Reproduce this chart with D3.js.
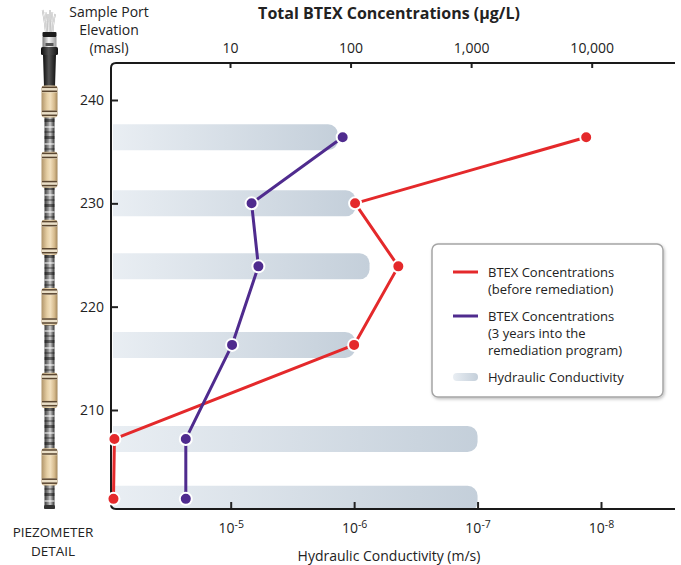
<!DOCTYPE html>
<html lang="en">
<head>
<meta charset="utf-8">
<title>Total BTEX Concentrations</title>
<script src="https://d3js.org/d3.v7.min.js"></script>
<style>
  body { margin: 0; background: #fff; }
  svg { display: block; font-family: "Open Sans", sans-serif; }
  .tick line { stroke: #222; stroke-width: 2; }
  .tick text { font-size: 14px; fill: #222; font-family: "Open Sans", sans-serif; }
  .domain { display: none; }
  .label { font-size: 14px; fill: #222; }
  .legendText { font-size: 13px; fill: #222; }
</style>
</head>
<body>
<div id="chart"></div>
<script>
// sample port elevations (masl)
const elevations = [236.4, 230.0, 223.9, 216.3, 207.2, 201.4];
// total BTEX, ug/L
const btexBefore = [9000, 109, 249, 107, 1.1, 1.08];
const btexAfter = [86, 15.1, 17.2, 10.4, 4.3, 4.3];
// hydraulic conductivity, m/s
const conductivity = [1.35e-6, 9.7e-7, 7.5e-7, 9.8e-7, 1e-7, 1e-7];

const concTicks = [10, 100, 1000, 10000];
const condTicks = [1e-5, 1e-6, 1e-7, 1e-8];
const elevTicks = [210, 220, 230, 240];

// tan packer sleeves on the piezometer drawing, masl
const packerTop = [241.4, 235.0, 228.4, 221.8, 213.6, 206.3];
const packerBottom = [238.3, 231.5, 225.0, 218.2, 210.2, 202.7];

const W = 681, H = 565;
const margin = {top: 63, right: 6, bottom: 56, left: 111};
const width = W - margin.left - margin.right;
const height = H - margin.top - margin.bottom;

const red = "#e4292b", purple = "#4f2b8e";

const xConc = d3.scaleLog().domain([10, 10000]).range([119, 480.7]);
const xCond = d3.scaleLog().domain([1e-5, 1e-8]).range([119.7, 490]);
const y = d3.scaleLinear().domain([210, 240]).range([347, 37]);

const svg = d3.select("#chart").append("svg")
    .attr("width", W)
    .attr("height", H);

const defs = svg.append("defs");

function gradient(id, stops, vertical) {
    let g = defs.append("linearGradient").attr("id", id)
        .attr("x1", 0).attr("y1", 0)
        .attr("x2", vertical ? 0 : 1).attr("y2", vertical ? 1 : 0);
    stops.forEach(s => g.append("stop").attr("offset", s[0]).attr("stop-color", s[1]));
}
gradient("kGrad", [["0%", "#e9eef3"], ["100%", "#c4cfda"]]);
gradient("tanGrad", [["0%", "#b0946a"], ["35%", "#e6cfa5"], ["55%", "#f1dfbd"], ["80%", "#d7bc8f"], ["100%", "#a4885c"]]);
gradient("tubeGrad", [["0%", "#3a3a3a"], ["40%", "#999"], ["55%", "#d0d0d0"], ["80%", "#777"], ["100%", "#333"]]);
gradient("blackGrad", [["0%", "#0d0d0d"], ["45%", "#555"], ["100%", "#111"]]);
gradient("silverGrad", [["0%", "#7a7a7a"], ["45%", "#f4f4f4"], ["100%", "#9a9a9a"]]);

let stripes = defs.append("pattern").attr("id", "stripes")
    .attr("patternUnits", "userSpaceOnUse")
    .attr("width", 20).attr("height", 17);
stripes.append("rect").attr("y", 0).attr("width", 20).attr("height", 3).attr("fill", "rgba(0,0,0,0.45)");
stripes.append("rect").attr("y", 7).attr("width", 20).attr("height", 2).attr("fill", "rgba(255,255,255,0.5)");
stripes.append("rect").attr("y", 12).attr("width", 20).attr("height", 2).attr("fill", "rgba(0,0,0,0.3)");

defs.append("clipPath").attr("id", "plotClip")
    .append("rect").attr("x", 1).attr("y", 0).attr("width", width).attr("height", height);

defs.append("filter").attr("id", "shadow")
    .attr("x", "-10%").attr("y", "-10%").attr("width", "120%").attr("height", "120%")
    .append("feDropShadow")
    .attr("dx", 1).attr("dy", 1.5).attr("stdDeviation", 1.5)
    .attr("flood-opacity", 0.25);

//titles
svg.append("text")
    .attr("x", 389).attr("y", 19)
    .attr("text-anchor", "middle")
    .style("font-size", "16px").style("font-weight", "bold").style("fill", "#222")
    .text("Total BTEX Concentrations (\u03bcg/L)");

svg.append("text")
    .attr("class", "label")
    .attr("text-anchor", "middle")
    .selectAll("tspan")
    .data(["Sample Port", "Elevation", "(masl)"])
    .enter()
    .append("tspan")
    .attr("x", 109)
    .attr("y", (d, i) => 17 + i * 17.8)
    .text(d => d);

svg.append("text")
    .attr("class", "label")
    .attr("text-anchor", "middle")
    .style("font-size", "13.5px")
    .selectAll("tspan")
    .data(["PIEZOMETER", "DETAIL"])
    .enter()
    .append("tspan")
    .attr("x", 53)
    .attr("y", (d, i) => 537 + i * 18.5)
    .text(d => d);

svg.append("text")
    .attr("class", "label")
    .attr("x", 389).attr("y", 561)
    .attr("text-anchor", "middle")
    .text("Hydraulic Conductivity (m/s)");

//piezometer drawing
const pz = svg.append("g").attr("class", "piezometer");
const cx = 49.5;
const py = v => y(v) + margin.top;

pz.append("rect")
    .attr("x", cx - 5).attr("y", 80)
    .attr("width", 10).attr("height", margin.top + height - 80)
    .attr("fill", "url(#tubeGrad)");
pz.append("rect")
    .attr("x", cx - 5).attr("y", 80)
    .attr("width", 10).attr("height", margin.top + height - 80)
    .attr("fill", "url(#stripes)");
pz.append("rect")
    .attr("x", cx - 5.5).attr("y", margin.top + height - 4)
    .attr("width", 11).attr("height", 4).attr("rx", 1.5)
    .attr("fill", "#333");

[-6, -3.5, -1.5, 0.5, 2.5, 5].forEach((o, i) => {
    let p = `M${cx + o * 0.6},33 Q${cx + o * 0.8},20 ${cx + o * 1.15},${10 + (i % 3) * 2}`;
    pz.append("path").attr("d", p).attr("fill", "none").attr("stroke", "#aaa").attr("stroke-width", 1.6);
    pz.append("path").attr("d", p).attr("fill", "none").attr("stroke", "#fafafa").attr("stroke-width", 0.8);
});
pz.append("rect").attr("x", cx - 7).attr("y", 32).attr("width", 14).attr("height", 5).attr("rx", 1).attr("fill", "#1c1c1c");
pz.append("rect").attr("x", cx - 7).attr("y", 37).attr("width", 14).attr("height", 10).attr("fill", "url(#silverGrad)");
pz.append("rect").attr("x", cx - 4).attr("y", 43).attr("width", 8).attr("height", 3).attr("fill", "#555");
pz.append("rect").attr("x", cx - 8.5).attr("y", 47).attr("width", 17).attr("height", 8).attr("rx", 1.5).attr("fill", "url(#blackGrad)");
pz.append("path")
    .attr("d", `M${cx - 6.5},55 L${cx + 6.5},55 L${cx + 5.5},86 L${cx - 5.5},86 Z`)
    .attr("fill", "url(#blackGrad)");

packerTop.forEach((t, i) => {
    let top = py(t), bot = py(packerBottom[i]);
    pz.append("rect")
        .attr("x", cx - 8).attr("y", top)
        .attr("width", 16).attr("height", bot - top).attr("rx", 3)
        .attr("fill", "url(#tanGrad)");
    [top + 1, bot - 7].forEach(r0 => {
        pz.append("rect").attr("x", cx - 7.5).attr("y", r0).attr("width", 15).attr("height", 6).attr("fill", "#eadfc8");
        pz.append("rect").attr("x", cx - 7.5).attr("y", r0).attr("width", 15).attr("height", 1.5).attr("fill", "#5a4630");
        pz.append("rect").attr("x", cx - 7.5).attr("y", r0 + 4).attr("width", 15).attr("height", 1.5).attr("fill", "#5a4630");
    });
});

//plot area
const g = svg.append("g")
    .attr("transform", `translate(${margin.left}, ${margin.top})`);

//hydraulic conductivity bars
const barH = 26, r = 10, x0 = 2;
g.append("g")
    .attr("clip-path", "url(#plotClip)")
    .selectAll("path")
    .data(conductivity)
    .enter()
    .append("path")
    .attr("fill", "url(#kGrad)")
    .attr("d", (d, i) => {
        let x1 = xCond(d), top = y(elevations[i]) - barH / 2, bot = top + barH;
        return `M${x0},${top} H${x1 - r} A${r},${r} 0 0 1 ${x1},${top + r} V${bot - r} A${r},${r} 0 0 1 ${x1 - r},${bot} H${x0} Z`;
    });

//axes
const topAxis = d3.axisTop(xConc)
    .tickValues(concTicks)
    .tickFormat(d3.format(","))
    .tickSizeInner(-5)
    .tickSizeOuter(0)
    .tickPadding(10);
g.append("g").attr("class", "axis-top").call(topAxis);

const bottomAxis = d3.axisBottom(xCond)
    .tickValues(condTicks)
    .tickSizeInner(-7)
    .tickSizeOuter(0)
    .tickPadding(14);
g.append("g")
    .attr("class", "axis-bottom")
    .attr("transform", `translate(0, ${height})`)
    .call(bottomAxis)
    .selectAll(".tick text")
    .text(null)
    .call(t => {
        t.append("tspan").text("10");
        t.append("tspan")
            .attr("dy", "-0.45em")
            .style("font-size", "10.5px")
            .text(d => String(Math.round(Math.log10(d))));
    });

const leftAxis = d3.axisLeft(y)
    .tickValues(elevTicks)
    .tickSizeInner(-7)
    .tickSizeOuter(0)
    .tickPadding(7);
g.append("g").attr("class", "axis-left").call(leftAxis);

//frame
const c = 5;
g.append("path")
    .attr("fill", "none")
    .attr("stroke", "#1a1a1a")
    .attr("stroke-width", 2)
    .attr("d", `M${width},0 H${c} Q0,0 0,${c} V${height - c} Q0,${height} ${c},${height} H${width}`);

//concentration lines
const line = data => d3.line()
    .x(d => xConc(d))
    .y((d, i) => y(elevations[i]))(data);

[[btexBefore, red], [btexAfter, purple]].forEach(s => {
    g.append("path")
        .attr("fill", "none")
        .attr("stroke", s[1])
        .attr("stroke-width", 3)
        .attr("stroke-linejoin", "round")
        .attr("d", line(s[0]));
});

[[btexBefore, red], [btexAfter, purple]].forEach(s => {
    g.append("g")
        .selectAll("circle")
        .data(s[0])
        .enter()
        .append("circle")
        .attr("cx", d => xConc(d))
        .attr("cy", (d, i) => y(elevations[i]))
        .attr("r", 6)
        .attr("fill", s[1])
        .attr("stroke", "#fff")
        .attr("stroke-width", 2);
});

//legend
const legend = g.append("g").attr("transform", "translate(321, 181)");
legend.append("rect")
    .attr("x", 0).attr("y", 0)
    .attr("width", 231).attr("height", 153)
    .attr("rx", 6)
    .attr("fill", "#fff")
    .attr("stroke", "#a5a5a5")
    .attr("stroke-width", 1.5)
    .attr("filter", "url(#shadow)");

const legendItems = [
    {type: "line", color: red, y: 28, lines: ["BTEX Concentrations", "(before remediation)"]},
    {type: "line", color: purple, y: 72, lines: ["BTEX Concentrations", "(3 years into the", "remediation program)"]},
    {type: "bar", color: "url(#kGrad)", y: 133, lines: ["Hydraulic Conductivity"]}
];

legendItems.forEach(it => {
    if (it.type === "line") {
        legend.append("line")
            .attr("x1", 21).attr("x2", 46)
            .attr("y1", it.y).attr("y2", it.y)
            .attr("stroke", it.color)
            .attr("stroke-width", 3);
    } else {
        legend.append("rect")
            .attr("x", 21).attr("y", it.y - 4)
            .attr("width", 25).attr("height", 8)
            .attr("rx", 4)
            .attr("fill", it.color);
    }
    legend.append("text")
        .attr("class", "legendText")
        .selectAll("tspan")
        .data(it.lines)
        .enter()
        .append("tspan")
        .attr("x", 56)
        .attr("y", (d, i) => it.y + 5 + i * 17)
        .text(d => d);
});
</script>
</body>
</html>
